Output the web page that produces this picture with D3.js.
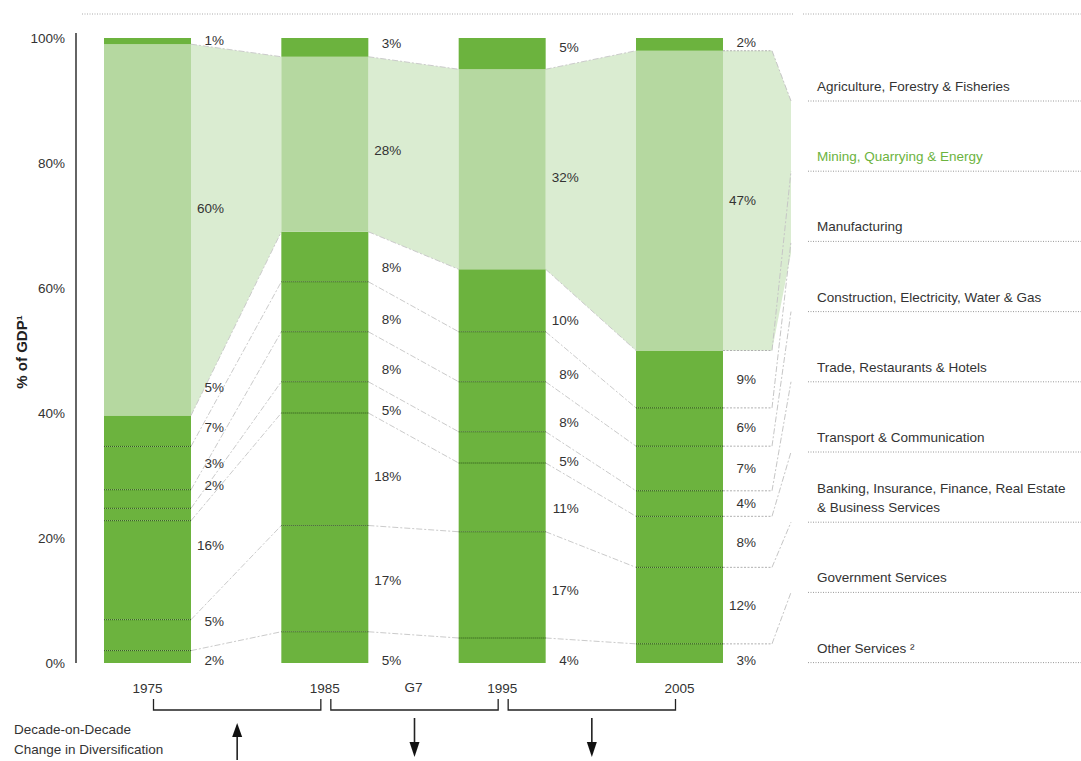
<!DOCTYPE html>
<html><head><meta charset="utf-8">
<script src="https://cdn.jsdelivr.net/npm/d3@7"></script>
<style>
body{margin:0;background:#fff}
text{font-family:"Liberation Sans",Arial,Helvetica,sans-serif;fill:#333}
</style>
</head><body>
<svg id="chart" width="1081" height="761"></svg>
<script>
// ---------- DATA ----------
const years = ["1975", "1985", "1995", "2005"];
// sectors listed bottom-of-stack to top-of-stack
const sectors = [
  "Other Services",
  "Government Services",
  "Banking, Insurance, Finance, Real Estate & Business Services",
  "Transport & Communication",
  "Trade, Restaurants & Hotels",
  "Construction, Electricity, Water & Gas",
  "Manufacturing",
  "Mining, Quarrying & Energy",
  "Agriculture, Forestry & Fisheries"
];
const share1975 = [2, 5, 16, 2, 3, 7, 5, 60, 1];
const share1985 = [5, 17, 18, 5, 8, 8, 8, 28, 3];
const share1995 = [4, 17, 11, 5, 8, 8, 10, 32, 5];
const share2005 = [3, 12, 8, 4, 7, 6, 9, 47, 2];
const yTicks = [0, 20, 40, 60, 80, 100];
// legend, top to bottom (lines)
const legendLabels = [
  ["Agriculture, Forestry & Fisheries"],
  ["Mining, Quarrying & Energy"],
  ["Manufacturing"],
  ["Construction, Electricity, Water & Gas"],
  ["Trade, Restaurants & Hotels"],
  ["Transport & Communication"],
  ["Banking, Insurance, Finance, Real Estate", "& Business Services"],
  ["Government Services"],
  ["Other Services \u00B2"]
];
const highlightSector = "Mining, Quarrying & Energy";
const groupLabel = "G7";
const yTitle = "% of GDP\u00B9";
const diversificationChange = ["up", "down", "down"];
const footLines = ["Decade-on-Decade", "Change in Diversification"];

// ---------- SETUP ----------
const shares = [share1975, share1985, share1995, share2005];
const svg = d3.select("#chart");
const DARK = "#6cb33e", LIGHT = "#b5d8a0", BAND = "#daecd1";
const FS = 13.5;
const x = d3.scalePoint().domain(years).range([147.5, 679.5]);
const barW = 87;
const y = d3.scaleLinear().domain([0, 100]).range([663, 38]);
const hiIdx = sectors.indexOf(highlightSector);

// normalized stacks
const stacks = shares.map(arr => {
  const tot = d3.sum(arr);
  let c = 0;
  return arr.map((v, j) => {
    const y0 = c; c += v * 100 / tot;
    return {j, v, y0, y1: c};
  });
});
const L = yr => x(yr) - barW / 2, R = yr => x(yr) + barW / 2;

// top dotted rule
svg.append("line").attr("x1", 82).attr("x2", 793).attr("y1", 14).attr("y2", 14)
  .attr("stroke", "#aaa").attr("stroke-dasharray", "1,1.5");
svg.append("line").attr("x1", 803).attr("x2", 1081).attr("y1", 14).attr("y2", 14)
  .attr("stroke", "#aaa").attr("stroke-dasharray", "1,1.5");

// legend geometry
const legX = 808, legTextX = 817, legY0 = 101, legStep = 70.2;
const underlineY = i => legY0 + i * legStep; // i: legend index top->bottom
const legIdxOfSector = j => sectors.length - 1 - j;

// mining bands between bars
const gBands = svg.append("g");
for (let i = 0; i < years.length - 1; i++) {
  const a = stacks[i][hiIdx], b = stacks[i + 1][hiIdx];
  const xa = R(years[i]), xb = L(years[i + 1]);
  gBands.append("path")
    .attr("d", `M${xa},${y(a.y1)}L${xb},${y(b.y1)}L${xb},${y(b.y0)}L${xa},${y(a.y0)}Z`)
    .attr("fill", BAND);
}
// band to legend after last bar
const last = stacks[years.length - 1], lastYr = years[years.length - 1];
const xr0 = R(lastYr), xr1 = 772, xr2 = 791;
{
  const m = last[hiIdx];
  gBands.append("path")
    .attr("d", `M${xr0},${y(m.y1)}L${xr1},${y(m.y1)}L${xr2},${underlineY(legIdxOfSector(hiIdx) - 1)}` +
      `L${xr2},${underlineY(legIdxOfSector(hiIdx) + 1) + 12}L${xr1},${y(m.y0)}L${xr0},${y(m.y0)}Z`)
    .attr("fill", BAND);
}

// connecting lines between bars
const gConn = svg.append("g").attr("fill", "none").attr("stroke", "#cbcbcb")
  .attr("stroke-width", 1).attr("stroke-dasharray", "6,2,2,2");
for (let i = 0; i < years.length - 1; i++) {
  for (let j = 0; j < sectors.length - 1; j++) {
    gConn.append("line")
      .attr("x1", R(years[i])).attr("y1", y(stacks[i][j].y1))
      .attr("x2", L(years[i + 1])).attr("y2", y(stacks[i + 1][j].y1));
  }
}
// lines from last bar to legend
const gRight = svg.append("g").attr("fill", "none").attr("stroke", "#b0b0b0").attr("stroke-width", 1);
for (let j = 0; j < sectors.length - 1; j++) {
  const yy = y(last[j].y1);
  gRight.append("line").attr("x1", xr0).attr("x2", xr1).attr("y1", yy).attr("y2", yy)
    .attr("stroke-dasharray", "2,1.5");
  gRight.append("line").attr("x1", xr1).attr("y1", yy)
    .attr("x2", xr2).attr("y2", underlineY(legIdxOfSector(j) - 1))
    .attr("stroke-dasharray", "6,2,2,2").attr("stroke", "#c6c6c6");
}

// bars
const gBars = svg.append("g");
years.forEach((yr, i) => {
  gBars.selectAll(null).data(stacks[i]).join("rect")
    .attr("x", L(yr)).attr("width", barW)
    .attr("y", d => y(d.y1)).attr("height", d => y(d.y0) - y(d.y1))
    .attr("fill", d => d.j === hiIdx ? LIGHT : DARK);
  // dotted separators between dark segments below the highlighted one
  gBars.selectAll(null).data(stacks[i].filter(d => d.j < hiIdx - 1)).join("line")
    .attr("x1", L(yr)).attr("x2", R(yr))
    .attr("y1", d => y(d.y1)).attr("y2", d => y(d.y1))
    .attr("stroke", "#1f3d10").attr("stroke-opacity", 0.85)
    .attr("stroke-dasharray", "1,1");
});

// value labels
const gLab = svg.append("g").attr("font-size", FS).attr("text-anchor", "end");
const nTop = sectors.length - 1;
years.forEach((yr, i) => {
  stacks[i].forEach((d, j) => {
    const c0 = (y(d.y0) + y(d.y1)) / 2;
    let c = c0;
    if (j === nTop) {
      c = y(d.y1) + 0.3 * (y(d.y0) - y(d.y1));
    } else if (j === 0) {
      c = y(0) - 3;
    } else if (i < years.length - 1) {
      const n = stacks[i + 1][j];
      const c1 = (y(n.y0) + y(n.y1)) / 2;
      c = c0 + (c1 - c0) * 0.25;
    }
    gLab.append("text").attr("x", R(yr) + 33).attr("y", c).attr("dy", "0.35em")
      .text(d.v + "%");
  });
});

// legend
const gLeg = svg.append("g").attr("font-size", FS);
legendLabels.forEach((lines, i) => {
  const uy = underlineY(i);
  gLeg.append("line").attr("x1", legX).attr("x2", 1081).attr("y1", uy).attr("y2", uy)
    .attr("stroke", "#999").attr("stroke-dasharray", "1,1.5");
  const isHi = lines.join(" ") === highlightSector;
  lines.forEach((t, k) => {
    gLeg.append("text").attr("x", legTextX)
      .attr("y", uy - 10 - (lines.length - 1 - k) * 19)
      .style("fill", isHi ? DARK : "#333").text(t);
  });
});

// y axis
const yAxis = d3.axisLeft(y).tickValues(yTicks).tickSize(0).tickPadding(11)
  .tickFormat(d => d + "%");
const gy = svg.append("g").attr("transform", "translate(76,0)").call(yAxis);
gy.select(".domain").remove();
gy.selectAll("text").attr("font-size", FS).style("fill", "#333")
  .attr("font-family", "Liberation Sans, Arial, sans-serif");
svg.append("line").attr("x1", 76).attr("x2", 76).attr("y1", 33).attr("y2", y(0))
  .attr("stroke", "#111").attr("stroke-width", 1.3);
svg.append("text").attr("transform", `translate(27,352) rotate(-90)`)
  .attr("text-anchor", "middle").attr("font-size", 15).attr("font-weight", "bold")
  .style("fill", "#222").text(yTitle);

// x labels
const gX = svg.append("g").attr("font-size", FS).attr("text-anchor", "middle");
years.forEach(yr => gX.append("text").attr("x", x(yr)).attr("y", 688).attr("dy", "0.35em").text(yr));
gX.append("text").attr("x", (x(years[1]) + x(years[2])) / 2).attr("y", 687).attr("dy", "0.35em").text(groupLabel);

// brackets & arrows
const gBr = svg.append("g").attr("fill", "none").attr("stroke", "#222").attr("stroke-width", 1.3);
diversificationChange.forEach((dir, i) => {
  const a = x(years[i]) + 6, b = x(years[i + 1]) - 4;
  gBr.append("path").attr("d", `M${a},699V710H${b}V699`);
  const m = (a + b) / 2;
  if (dir === "up") {
    gBr.append("line").attr("x1", m).attr("x2", m).attr("y1", 760).attr("y2", 734).attr("stroke-width", 1.6);
    svg.append("path").attr("d", `M${m - 5},737L${m + 5},737L${m},723Z`).attr("fill", "#111");
  } else {
    gBr.append("line").attr("x1", m).attr("x2", m).attr("y1", 718).attr("y2", 744).attr("stroke-width", 1.6);
    svg.append("path").attr("d", `M${m - 5},742L${m + 5},742L${m},757Z`).attr("fill", "#111");
  }
});

// foot text
const gF = svg.append("g").attr("font-size", FS);
footLines.forEach((t, k) => gF.append("text").attr("x", 14).attr("y", 729 + k * 20).attr("dy", "0.35em").text(t));
</script>
</body></html>
